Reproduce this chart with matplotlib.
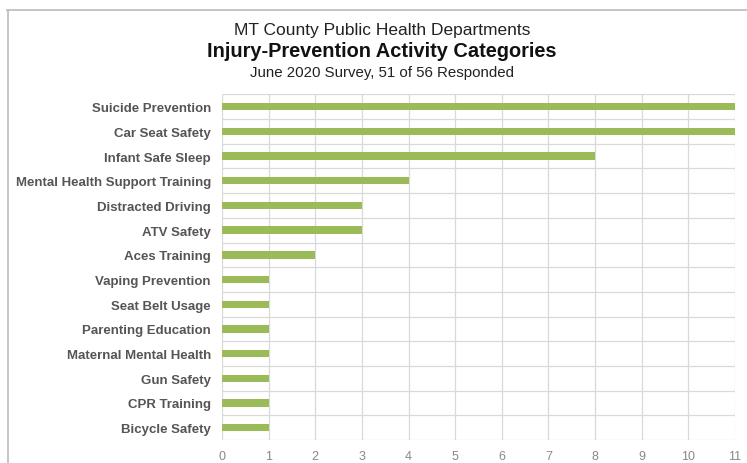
import numpy as np
import matplotlib.pyplot as plt
from matplotlib.lines import Line2D

# Survey results: number of departments reporting each activity
categories = [
    "Suicide Prevention", "Car Seat Safety", "Infant Safe Sleep",
    "Mental Health Support Training", "Distracted Driving", "ATV Safety",
    "Aces Training", "Vaping Prevention", "Seat Belt Usage",
    "Parenting Education", "Maternal Mental Health", "Gun Safety",
    "CPR Training", "Bicycle Safety",
]
counts = [11, 11, 8, 4, 3, 3, 2, 1, 1, 1, 1, 1, 1, 1]

plt.rcParams['font.family'] = ['Liberation Sans', 'DejaVu Sans']

fig = plt.figure(figsize=(7.47, 4.64), dpi=100)
ax = fig.add_axes([0.2972, 0.0496, 0.6868, 0.7448])

y = np.arange(len(categories))
ax.barh(y, counts, height=0.3, color='#9bbb59', zorder=3)

ax.set_ylim(len(categories) - 0.5, -0.5)
ax.set_xlim(0, 11)
ax.set_xticks(range(12))
ax.set_yticks(y)
ax.set_yticklabels(categories, fontsize=9.5, fontweight='bold', color='#555555')
ax.set_yticks(np.arange(-0.5, len(categories)), minor=True)
ax.tick_params(axis='both', which='both', length=0)
ax.tick_params(axis='x', labelsize=9, labelcolor='#888888', pad=7)
ax.tick_params(axis='y', pad=8)

ax.grid(axis='x', which='major', color='#d9d9d9', linewidth=0.9, zorder=0)
ax.grid(axis='y', which='minor', color='#d9d9d9', linewidth=0.9, zorder=0)
for s in ax.spines.values():
    s.set_visible(False)

# titles
fig.text(0.511, 0.935, "MT County Public Health Departments",
         ha='center', va='center', fontsize=12.5, color='#222222')
fig.text(0.511, 0.888, "Injury-Prevention Activity Categories",
         ha='center', va='center', fontsize=14.4, fontweight='bold', color='#111111')
fig.text(0.511, 0.843, "June 2020 Survey, 51 of 56 Responded",
         ha='center', va='center', fontsize=10.8, color='#222222')

# outer frame (top and left edges)
fig.add_artist(Line2D([7 / 747, 1.0], [1 - 10.5 / 464, 1 - 10.5 / 464],
                      transform=fig.transFigure, color='#bbbbbb', linewidth=1.2))
fig.add_artist(Line2D([7.5 / 747, 7.5 / 747], [0.0, 1 - 10.5 / 464],
                      transform=fig.transFigure, color='#bbbbbb', linewidth=1.2))

fig.savefig('out.png', dpi=100)
